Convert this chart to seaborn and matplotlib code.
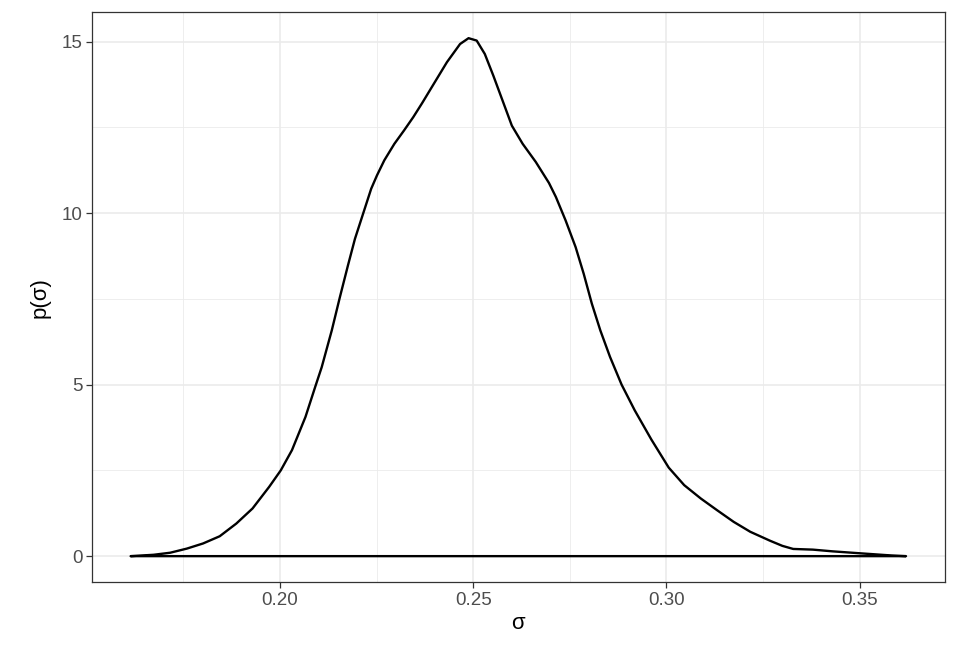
import numpy as np
import pandas as pd
import seaborn as sns
import matplotlib.pyplot as plt
from matplotlib.ticker import MultipleLocator

# Density curve
sigma = [0.1614, 0.1673, 0.1716, 0.1759, 0.1801, 0.1844, 0.1887, 0.1929,
         0.1972, 0.2002, 0.2031, 0.2066, 0.2091, 0.2108, 0.2134, 0.2155,
         0.2176, 0.2194, 0.2215, 0.2236, 0.2251, 0.2270, 0.2296, 0.2321,
         0.2345, 0.2368, 0.2390, 0.2432, 0.2466, 0.2488, 0.2509, 0.2530,
         0.2552, 0.2577, 0.2600, 0.2628, 0.2662, 0.2696, 0.2714, 0.2739,
         0.2765, 0.2786, 0.2807, 0.2829, 0.2854, 0.2884, 0.2918, 0.2961,
         0.3006, 0.3046, 0.3089, 0.3131, 0.3174, 0.3217, 0.3268, 0.3300,
         0.3328, 0.3379, 0.3430, 0.3480, 0.3531, 0.3582, 0.3620]
density = [0.00, 0.04, 0.10, 0.22, 0.37, 0.58, 0.95, 1.39,
           2.02, 2.50, 3.09, 4.06, 4.93, 5.51, 6.58, 7.55,
           8.48, 9.25, 9.98, 10.71, 11.10, 11.54, 12.02, 12.41,
           12.80, 13.21, 13.62, 14.40, 14.93, 15.10, 15.03, 14.64,
           14.01, 13.25, 12.55, 12.02, 11.49, 10.88, 10.47, 9.79,
           9.01, 8.23, 7.36, 6.58, 5.81, 5.00, 4.25, 3.40,
           2.58, 2.07, 1.68, 1.34, 1.00, 0.71, 0.45, 0.30,
           0.21, 0.19, 0.14, 0.10, 0.06, 0.02, 0.00]
x_ticks = [0.20, 0.25, 0.30, 0.35]
x_tick_labels = ["0.20", "0.25", "0.30", "0.35"]
y_ticks = [0, 5, 10, 15]

# ggplot-style outline: curve plus baseline (close the polygon)
df = pd.DataFrame({"sigma": sigma + [sigma[0]], "density": density + [density[0]]})

sns.set_theme(style="white")
plt.rcParams['font.family'] = ['Liberation Sans', 'DejaVu Sans']

fig = plt.figure(figsize=(9.69, 6.46), dpi=100)
ax = fig.add_axes([0.095, 0.099, 0.880, 0.882])

sns.lineplot(data=df, x="sigma", y="density", sort=False, estimator=None,
             color="black", linewidth=1.7, ax=ax, zorder=3)

# 5% expansion like ggplot
xr = max(sigma) - min(sigma)
yr = max(density) - min(density)
ax.set_xlim(min(sigma) - 0.05 * xr, max(sigma) + 0.05 * xr)
ax.set_ylim(min(density) - 0.05 * yr, max(density) + 0.05 * yr)

ax.set_xticks(x_ticks)
ax.set_xticklabels(x_tick_labels)
ax.set_yticks(y_ticks)
ax.xaxis.set_minor_locator(MultipleLocator(0.025))
ax.yaxis.set_minor_locator(MultipleLocator(2.5))

ax.grid(True, which="major", color="#EBEBEB", linewidth=1.2, zorder=0)
ax.grid(True, which="minor", color="#EBEBEB", linewidth=0.6, zorder=0)
ax.set_axisbelow(True)

for sp in ax.spines.values():
    sp.set_color("#333333")
    sp.set_linewidth(0.9)

ax.tick_params(axis="both", which="major", length=4, width=0.9, color="#333333",
               labelcolor="#4D4D4D", labelsize=13.5, pad=3, bottom=True, left=True)
ax.tick_params(axis="both", which="minor", length=0)

ax.set_xlabel("σ", fontsize=16, color="black", labelpad=3)
ax.set_ylabel("p(σ)", fontsize=16, color="black", labelpad=8)

plt.savefig("out.png", dpi=100)
